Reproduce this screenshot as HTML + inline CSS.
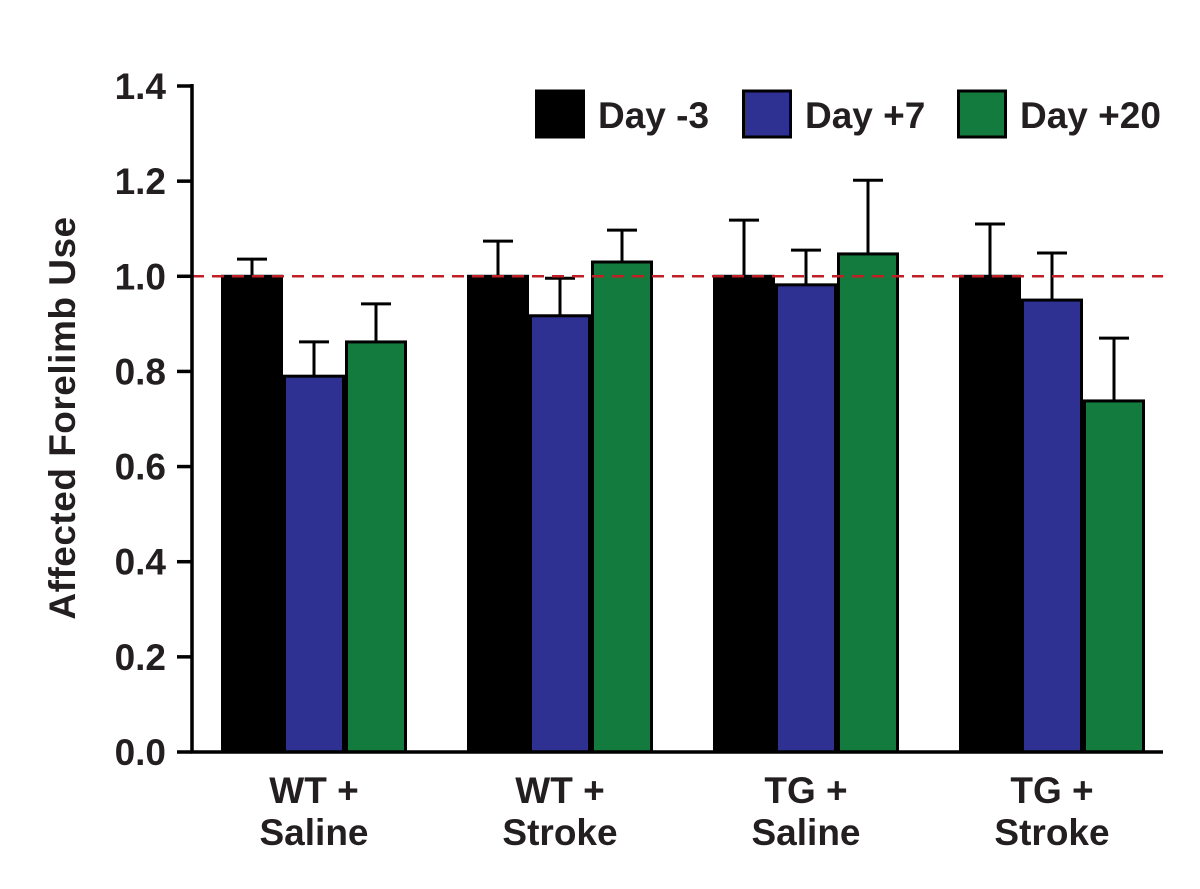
<!DOCTYPE html>
<html><head><meta charset="utf-8"><style>
body{margin:0;background:#fff}
svg text{font-family:"Liberation Sans",sans-serif;font-weight:bold;fill:#231f20}
</style></head><body>
<svg width="1200" height="884" viewBox="0 0 1200 884">
<g id="chart"></g>
</svg>
<script>
const categories=[["WT +","Saline"],["WT +","Stroke"],["TG +","Saline"],["TG +","Stroke"]];
const seriesNames=["Day -3","Day +7","Day +20"];
const day3=[1.0,1.0,1.0,1.0];
const day7=[0.79,0.917,0.982,0.95];
const day20=[0.862,1.03,1.047,0.738];
const err3=[0.036,0.074,0.118,0.11];
const err7=[0.072,0.079,0.073,0.099];
const err20=[0.08,0.067,0.155,0.132];
const yTicks=[0,0.2,0.4,0.6,0.8,1.0,1.2,1.4];
const refValue=1.0;
const colors=["#000000","#2e3192","#147b3e"];
const ns="http://www.w3.org/2000/svg";
const g=document.getElementById('chart');
const x0=192,x1=1163,yBase=752,yTop=86;
function y(v){return yBase-(v/1.4)*(yBase-yTop);}
const groupW=246,firstCenter=314,barW=62;
function bx(gi,si){return firstCenter+gi*groupW+(si-1.5)*barW;}
function mk(tag,attrs,name,parent){const e=document.createElementNS(ns,tag);for(const k in attrs)e.setAttribute(k,attrs[k]);


(parent||g).appendChild(e);return e;}
const series=[day3,day7,day20],errs=[err3,err7,err20];
categories.forEach((c,gi)=>{
 series.forEach((s,si)=>{
  const left=bx(gi,si),cx=left+barW/2,top=y(s[gi]),et=y(s[gi]+errs[si][gi]);
  mk('line',{x1:cx,x2:cx,y1:top,y2:et,stroke:'#000','stroke-width':3},'error-bar');
  mk('line',{x1:cx-15,x2:cx+15,y1:et,y2:et,stroke:'#000','stroke-width':3},'error-cap');
  mk('rect',{x:left+1.5,y:top,width:barW-3,height:yBase-top,fill:colors[si],stroke:'#000','stroke-width':3},'bar-'+seriesNames[si].replace(/[^a-z0-9]+/gi,'').toLowerCase()+'-g'+(gi+1));
 });
 const t=mk('text',{x:firstCenter+gi*groupW,y:803,'text-anchor':'middle','font-size':37},'x-tick-label');
 t.textContent=c[0];
 const t2=mk('text',{x:firstCenter+gi*groupW,y:845,'text-anchor':'middle','font-size':37},'x-tick-label');
 t2.textContent=c[1];
});
mk('line',{x1:x0,x2:x1,y1:y(refValue),y2:y(refValue),stroke:'#be2026','stroke-width':2.5,'stroke-dasharray':'12 8'},'reference-line');
mk('line',{x1:x0,x2:x0,y1:yTop-2,y2:yBase+1.5,stroke:'#000','stroke-width':3.5},'y-axis');
mk('line',{x1:x0-1.5,x2:x1,y1:yBase,y2:yBase,stroke:'#000','stroke-width':3.5},'x-axis');
yTicks.forEach(v=>{
 mk('line',{x1:x0-15,x2:x0,y1:y(v),y2:y(v),stroke:'#000','stroke-width':3.5},'y-tick');
 const t=mk('text',{x:166,y:y(v)+13,'text-anchor':'end','font-size':37},'y-tick-label');
 t.textContent=v.toFixed(1);
});
const yt=mk('text',{x:75,y:418,'text-anchor':'middle','font-size':37,'letter-spacing':0.5,transform:'rotate(-90 75 418)'},'y-axis-title');
yt.textContent="Affected Forelimb Use";
const legX=[535,742,957];
seriesNames.forEach((n,i)=>{
 mk('rect',{x:legX[i]+1.5,y:91,width:47,height:46,fill:colors[i],stroke:'#000','stroke-width':3},'legend-swatch');
 const t=mk('text',{x:legX[i]+63,y:128,'font-size':37},'legend-entry');
 t.textContent=n;
});
</script>
</body></html>
